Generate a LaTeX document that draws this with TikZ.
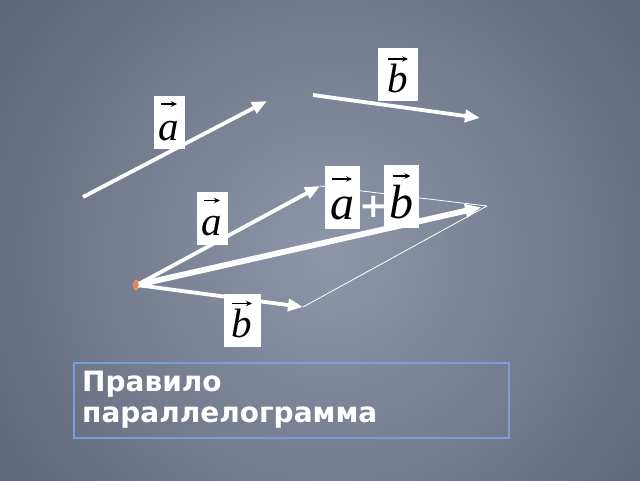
\documentclass[tikz,border=0pt]{standalone}
\usepackage{fontspec}
\setmainfont{Liberation Serif}
\newfontfamily\boxfont{DejaVu Sans}
\usetikzlibrary{arrows.meta,shapes.geometric}
\definecolor{bginner}{HTML}{8E97AA}
\definecolor{bgouter}{HTML}{3C4254}
\definecolor{framecol}{HTML}{7C9CDA}
\definecolor{dotcol}{HTML}{E8844C}
\tikzset{
  vec/.style={draw=white, line width=3.8pt, -{Triangle[length=15pt,width=12pt]}},
  sumvec/.style={draw=white, line width=5.8pt, -{Triangle[length=16pt,width=13pt]}},
  thin/.style={draw=white, line width=0.8pt},
  lbl/.style={fill=white, inner sep=0pt, text=black, font=\fontsize{41}{41}\selectfont\itshape,
    minimum width=31pt, minimum height=53pt, text height=44pt, text depth=9pt},
  biglbl/.style={lbl, font=\fontsize{48}{48}\selectfont\itshape, minimum width=35pt,
    minimum height=63pt, text height=53pt, text depth=10pt},
  varrow/.style 2 args={path picture={\draw[black, line width=1.3pt, -{Stealth[length=6pt,width=5.5pt]}]
    ([xshift=-#1, yshift=-#2]path picture bounding box.north) --
    ([xshift=#1, yshift=-#2]path picture bounding box.north);}},
}
\begin{document}
\begin{tikzpicture}[x=1pt, y=-1pt]
  \useasboundingbox (0,0) rectangle (640,480);
  \begin{scope}
    \clip (0,0) rectangle (640,480);
    \shade[inner color=bginner, outer color=bgouter] (330,255) circle (700pt);
  \end{scope}

  % coordinates
  \coordinate (a1s) at (83,197);
  \coordinate (a1e) at (267,101);
  \coordinate (b1s) at (313,95);
  \coordinate (b1e) at (480,118);
  \coordinate (O) at (137,285);
  \coordinate (A) at (320,186);
  \coordinate (B) at (303,307);
  \coordinate (S) at (487,206);

  % free vectors
  \draw[vec] (a1s) -- (a1e);
  \draw[vec] (b1s) -- (b1e);

  % parallelogram
  \draw[thin] (A) -- (S);
  \draw[thin] (B) -- (S);
  \draw[vec] (O) -- (A);
  \draw[vec] (O) -- (B);
  \draw[sumvec, shorten >=6pt] (O) -- (S);
  \node[fill=dotcol, draw=dotcol!70!white, ellipse, minimum width=5pt, minimum height=10pt, inner sep=0pt] (dot) at (136,285) {};

  % labels
  \node[lbl, varrow={8pt}{8pt}] (la1) at (169,122.5) {a};
  \node[lbl, varrow={10pt}{11pt}, minimum width=40pt] (lb1) at (398,74.5) {b};
  \node[lbl, varrow={8pt}{9pt}] (la2) at (212,218) {a};
  \node[lbl, varrow={10pt}{10pt}, minimum width=37pt] (lb2) at (242,320) {b};
  \node[biglbl, varrow={10pt}{13pt}] (las) at (342,197.5) {a};
  \node[biglbl, varrow={9pt}{11pt}] (lbs) at (401.5,196.5) {b};
  \node[text=white, font=\boxfont\bfseries\fontsize{34}{34}\selectfont, inner sep=0pt] (plus) at (373.5,207) {+};

  % caption box
  \node[draw=framecol, line width=2pt, anchor=north west, minimum width=435pt, minimum height=75pt,
        inner sep=0pt] (cap) at (73,362) {};
  \node[anchor=north west, text=white, align=left, inner sep=0pt,
        font=\boxfont\bfseries\fontsize{28}{31}\selectfont] (captext) at (82,371)
        {Правило\\параллелограмма};
\end{tikzpicture}
\end{document}
